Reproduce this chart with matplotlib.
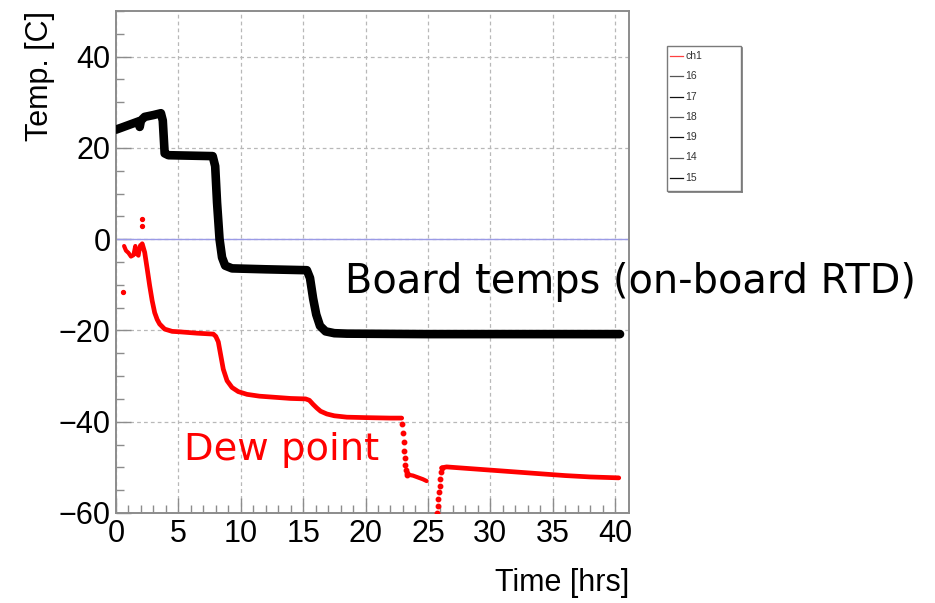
import matplotlib
matplotlib.use("Agg")
import matplotlib.pyplot as plt
import numpy as np
from matplotlib.patches import Rectangle
from matplotlib.lines import Line2D

# ---------------- data ----------------
board_t = [0.0, 0.5, 1.0, 1.5, 1.8, 1.9, 2.0, 2.3, 3.0, 3.6, 3.75, 3.9, 4.2, 6.0, 7.75,
           7.95, 8.1, 8.3, 8.5, 8.75, 9.3, 12.0, 15.3, 15.55, 15.8, 16.05, 16.35, 16.8,
           17.5, 18.5, 25.0, 32.0, 40.4]
board_T = [24.0, 24.5, 25.0, 25.5, 25.8, 24.6, 26.0, 26.8, 27.2, 27.6, 26.0, 18.8, 18.4,
           18.3, 18.2, 16.0, 8.0, 0.0, -4.0, -5.8, -6.4, -6.6, -6.8, -8.5, -13.0, -16.5,
           -19.0, -20.2, -20.6, -20.7, -20.8, -20.8, -20.8]

dew_iso_t = [0.55, 2.1, 2.1]
dew_iso_T = [-11.6, 4.4, 2.8]

dew_early_t = [0.65, 0.8, 1.0, 1.2, 1.4, 1.55, 1.65, 1.8, 1.95, 2.05]
dew_early_T = [-1.5, -2.5, -3.0, -3.8, -3.5, -1.5, -3.2, -3.6, -1.3, -2.0]

dew_main_t = [2.1, 2.3, 2.5, 2.7, 2.9, 3.1, 3.3, 3.5, 3.9, 4.5, 5.1, 6.5, 7.8, 8.0, 8.2,
              8.4, 8.6, 8.9, 9.3, 9.8, 10.5, 11.5, 12.5, 14.0, 15.2, 15.5, 15.8, 16.1,
              16.4, 16.9, 17.5, 18.5, 20.0, 22.0, 22.9]
dew_main_T = [-1.0, -2.9, -6.5, -10.2, -13.5, -16.1, -17.6, -18.6, -19.7, -20.2, -20.3,
              -20.6, -20.8, -21.3, -22.5, -25.5, -28.5, -31.0, -32.5, -33.4, -34.0, -34.4,
              -34.6, -34.9, -35.0, -35.3, -36.2, -37.0, -37.7, -38.3, -38.7, -39.0, -39.1,
              -39.2, -39.2]

dew_drop_t = [22.95, 23.0, 23.05, 23.1, 23.15, 23.2, 23.25, 23.3, 23.35]
dew_drop_T = [-40.5, -42.5, -44.5, -46.5, -48.0, -49.5, -50.5, -51.3, -51.6]

dew_mid_t = [23.4, 23.8, 24.2, 24.6, 24.9]
dew_mid_T = [-51.6, -51.8, -52.2, -52.6, -53.0]

dew_rise_t = [25.75, 25.8, 25.85, 25.9, 25.95, 26.0, 26.05, 26.1]
dew_rise_T = [-60.0, -58.5, -57.0, -55.5, -54.0, -52.5, -51.0, -50.2]

dew_late_t = [26.1, 26.5, 28.0, 30.0, 32.0, 34.0, 36.0, 38.0, 40.3]
dew_late_T = [-50.1, -49.9, -50.2, -50.6, -51.0, -51.4, -51.8, -52.1, -52.3]

x_ticks = [0, 5, 10, 15, 20, 25, 30, 35, 40]
y_ticks = [-60, -40, -20, 0, 20, 40]
legend_labels = ["ch1", "16", "17", "18", "19", "14", "15"]
legend_colors = ["#ff4040", "#555555", "#111111", "#555555", "#111111", "#555555", "#111111"]

# ---------------- figure ----------------
W, H = 935, 603
fig = plt.figure(figsize=(W / 100, H / 100), dpi=100)
plt.rcParams["font.family"] = ["Liberation Sans", "DejaVu Sans"]

L, R, T, B = 116, 629, 11, 513
ax = fig.add_axes([L / W, 1 - B / H, (R - L) / W, (B - T) / H])
ax.set_xlim(0, 41.12)
ax.set_ylim(-60, 50)

frame_col = "#8c8c8c"
for s in ax.spines.values():
    s.set_color(frame_col)
    s.set_linewidth(1.4)

ax.set_xticks(x_ticks)
ax.set_yticks(y_ticks)
ax.set_xticks(np.arange(0, 41, 1), minor=True)
ax.set_yticks(np.arange(-60, 51, 5), minor=True)
ax.tick_params(which="major", direction="in", length=11, width=1.0, color=frame_col,
               labelsize=22, top=False, right=False, pad=4)
ax.tick_params(which="minor", direction="in", length=5.5, width=1.0, color=frame_col,
               top=False, right=False)

ax.grid(which="major", linestyle=(0, (3, 2.5)), color="#b8b8b8", linewidth=0.9)
ax.axhline(0, color="#9a9ae6", linewidth=1.0, zorder=2)

# board temps (black band)
ax.plot(board_t, board_T, color="black", linewidth=6.2, solid_capstyle="round",
        solid_joinstyle="round", zorder=3)

# dew point (red)
red = "#ff0000"
ax.plot(dew_iso_t, dew_iso_T, "o", color=red, markersize=2.8, zorder=3, linestyle="none")
ax.plot(dew_early_t, dew_early_T, color=red, linewidth=3.0, solid_capstyle="round", zorder=3)
ax.plot(dew_main_t, dew_main_T, color=red, linewidth=3.4, solid_capstyle="round",
        solid_joinstyle="round", zorder=3)
ax.plot(dew_drop_t, dew_drop_T, "o", color=red, markersize=3.2, zorder=3, linestyle="none")
ax.plot(dew_mid_t, dew_mid_T, color=red, linewidth=3.0, solid_capstyle="round", zorder=3)
ax.plot(dew_rise_t, dew_rise_T, "o", color=red, markersize=3.2, zorder=3, linestyle="none",
        clip_on=True)
ax.plot(dew_late_t, dew_late_T, color=red, linewidth=3.4, solid_capstyle="round", zorder=3)

# axis titles
fig.text(R / W, 1 - 583 / H, "Time [hrs]", ha="right", va="center", fontsize=22)
fig.text(40 / W, 1 - T / H, "Temp. [C]", ha="center", va="top", rotation=90, fontsize=22)

# overlay annotations
ax.text(18.36, -11.7, "Board temps (on-board RTD)", fontsize=28.7, color="black",
        family="DejaVu Sans", ha="left", va="baseline", clip_on=False, zorder=5)
ax.text(5.45, -48.4, "Dew point", fontsize=27.7, color=red,
        family="DejaVu Sans", ha="left", va="baseline", clip_on=False, zorder=5)

# legend box (ROOT style)
lx0, ly0, lx1, ly1 = 667, 46, 741, 191
fig.patches.append(Rectangle((lx0 / W, 1 - ly1 / H), (lx1 - lx0) / W, (ly1 - ly0) / H,
                             transform=fig.transFigure, facecolor="white",
                             edgecolor="#7a7a7a", linewidth=1.0))
fig.lines.append(Line2D([(lx1 + 0.8) / W, (lx1 + 0.8) / W], [1 - (ly0 + 2) / H, 1 - (ly1 + 0.8) / H],
                        transform=fig.transFigure, color="#7a7a7a", linewidth=1.2))
fig.lines.append(Line2D([(lx0 + 2) / W, (lx1 + 0.8) / W], [1 - (ly1 + 0.8) / H, 1 - (ly1 + 0.8) / H],
                        transform=fig.transFigure, color="#7a7a7a", linewidth=1.2))
for i, (lab, col) in enumerate(zip(legend_labels, legend_colors)):
    yy = 56 + i * 20.3
    fig.lines.append(Line2D([670 / W, 683 / W], [1 - yy / H, 1 - yy / H],
                            transform=fig.transFigure, color=col, linewidth=0.9))
    fig.text(685 / W, 1 - yy / H, lab, ha="left", va="center", fontsize=7.5, color="#333333")

fig.savefig("out.png", dpi=100)
